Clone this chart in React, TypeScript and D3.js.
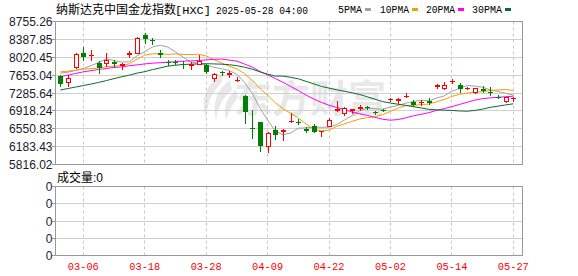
import React from 'react';
import * as d3 from 'd3';

const dates = ['03-03','03-04','03-05','03-06','03-07','03-10','03-11','03-12','03-13','03-14',
  '03-17','03-18','03-19','03-20','03-21','03-24','03-25','03-26','03-27','03-28',
  '03-31','04-01','04-02','04-03','04-04','04-07','04-08','04-09','04-10','04-11',
  '04-14','04-15','04-16','04-17','04-21','04-22','04-23','04-24','04-25','04-28',
  '04-29','04-30','05-01','05-02','05-05','05-06','05-07','05-08','05-09','05-12',
  '05-13','05-14','05-15','05-16','05-19','05-20','05-21','05-22','05-23','05-27'];

const opens = [7632.6,7504.0,7822.5,8108.2,8040.9,7904.1,7904.1,7932.7,7836.8,8061.3,
  8116.4,8469.5,8381.8,8112.3,7924.5,7918.4,7877.6,7842.8,7877.6,7857.2,
  7602.0,7708.2,7653.0,7524.4,7224.4,6571.2,6679.4,6189.5,6516.1,6479.4,
  6699.8,6699.8,6554.9,6597.8,6489.6,6612.0,6924.4,6871.3,6912.1,6952.9,
  6993.7,6903.9,6938.6,7132.5,7112.1,7210.1,7101.9,7087.6,7122.3,7401.9,
  7393.8,7528.5,7448.9,7385.6,7301.9,7377.5,7316.2,7210.1,7128.4,7173.3];
const highs = [7653.0,7653.0,8102.1,8230.7,8163.3,7938.8,8102.1,7973.5,7904.1,8149.1,
  8428.7,8516.5,8418.5,8163.3,7959.2,7959.2,7938.8,7918.4,8061.3,7877.6,
  7693.9,7744.9,7734.7,7606.1,7244.8,6938.6,6699.8,6489.6,6612.0,6544.7,
  6883.5,6748.8,6585.5,6652.9,6503.9,6769.2,7122.3,7006.0,6965.1,7046.8,
  7020.2,6918.2,6952.9,7183.5,7183.5,7275.4,7142.7,7142.7,7177.5,7469.3,
  7516.3,7565.3,7483.6,7408.1,7387.7,7428.5,7418.3,7244.8,7198.0,7210.1];
const lows = [7428.5,7428.5,7806.1,7973.5,7973.5,7700.0,7842.8,7822.5,7781.6,8026.6,
  8108.2,8312.4,8296.0,8026.6,7863.3,7877.6,7789.8,7781.6,7871.5,7693.9,
  7530.5,7659.2,7612.2,7524.4,6673.3,6361.0,6101.7,6067.1,6340.6,6326.3,
  6699.8,6652.9,6475.3,6475.3,6407.9,6597.8,6924.4,6836.6,6883.5,6938.6,
  6952.9,6857.0,6908.0,7116.2,7087.6,7198.0,7026.4,7040.7,7061.1,7381.5,
  7361.1,7495.8,7306.0,7377.5,7285.6,7312.1,7244.8,7183.5,7108.0,7128.4];
const closes = [7463.2,7585.7,8087.8,8026.6,8075.5,7789.8,7973.5,7891.9,7877.6,8102.1,
  8408.3,8394.0,8371.5,8061.3,7912.2,7906.1,7857.2,7871.5,7949.0,7724.5,
  7673.4,7697.9,7693.9,7557.1,6891.7,6544.7,6193.6,6463.0,6418.1,6520.2,
  6720.2,6687.5,6503.9,6489.6,6501.8,6734.5,6952.9,6969.2,6952.9,7006.0,
  6983.5,6893.7,6928.4,7169.3,7169.3,7224.4,7046.8,7095.7,7075.4,7459.1,
  7448.9,7536.7,7367.2,7393.8,7383.6,7332.6,7279.5,7199.9,7198.0,7189.7];

// moving-average values for days whose window starts before the visible range
const ma5Lead = [7693.9,7714.3,7748.9,7789.8];
const ma10Lead = [7720.4,7734.7,7755.1,7775.5,7785.7,7802.0,7826.5,7836.8,7851.0];
const ma20Lead = [7618.4,7653.0,7687.7,7720.4,7744.9,7769.4,7789.8,7810.2,7822.5,7847.0,
  7863.3,7883.7,7898.0,7908.2,7918.4,7928.6,7938.8,7944.9,7953.1];
const ma30Lead = [7346.9,7377.5,7408.1,7438.7,7469.3,7504.0,7540.8,7581.6,7618.4,7653.0,
  7693.9,7724.5,7765.3,7802.1,7836.8,7857.2,7871.5,7877.6,7883.7,7887.8,
  7883.7,7877.6,7867.4,7847.0,7816.4,7775.5,7720.4,7673.5,7632.6];

const yTickLabels = ['8755.26','8387.85','8020.45','7653.04','7285.64','6918.24','6550.83','6183.43','5816.02'];
const volTickLabels = ['0','0','0','0','0'];
const xTickLabels = ['03-06','03-18','03-28','04-09','04-22','05-02','05-14','05-27'];
const legendNames = ['5PMA','10PMA','20PMA','30PMA'];
const legendColors = ['#a0a0a0','#f0a000','#ff00ff','#0c6a2c'];

const RED = '#ff0000';
const GREEN = '#008000';
const CJK = '"Noto Sans CJK SC", sans-serif';
const MONO = '"Liberation Mono", monospace';
const SANS = '"Liberation Sans", Arial, sans-serif';

function rolling(vals: number[], n: number, lead: number[]) {
  return vals.map((_, i) => (i < n - 1 ? lead[i] : (d3.mean(vals.slice(i - n + 1, i + 1)) as number)));
}

export default function App() {
  const W = 578, H = 276;
  const L = 55.5, R = 522.5, T = 21.5, B = 164.5, VT = 186.5, VB = 255.5;
  const x = d3.scalePoint<string>().domain(dates).range([60.3, 513.3]);
  const y = d3.scaleLinear().domain([5816.02, 8755.26]).range([B, T]);
  const yVals = yTickLabels.map(Number);
  const px = (v: number) => Math.round(v - 0.5) + 0.5;
  const vy = d3.scaleLinear().domain([0, volTickLabels.length - 1]).range([VT, VB]);

  const mas = [
    rolling(closes, 5, ma5Lead),
    rolling(closes, 10, ma10Lead),
    rolling(closes, 20, ma20Lead),
    rolling(closes, 30, ma30Lead),
  ];
  const line = d3.line<number>().x((_, i) => x(dates[i]) as number).y((v) => y(v));

  const legendX = [338, 380, 426, 472];
  const legendW = [24, 29, 29, 30];

  return (
    <svg width={W} height={H} style={{ position: 'absolute', left: 0, top: 0, background: '#fff' }}>
      {/* title */}
      <text y={14} fontSize={12} fill="#000">
        <tspan x={56} fontFamily={CJK}>纳斯达克中国金龙指数</tspan>
        <tspan x={175} fontFamily={MONO} fontSize={11} textLength={36} lengthAdjust="spacingAndGlyphs">[HXC]</tspan>
        <tspan x={216} fontFamily={MONO} fontSize={11} textLength={92} lengthAdjust="spacingAndGlyphs">2025-05-28 04:00</tspan>
      </text>
      {/* legend */}
      {legendNames.map((n, i) => (
        <g key={n}>
          <text x={legendX[i]} y={12.5} fontFamily={MONO} fontSize={11} fill="#000" textLength={legendW[i]} lengthAdjust="spacingAndGlyphs">{n}</text>
          <rect x={legendX[i] + legendW[i] + 3} y={8} width={6} height={3} fill={legendColors[i]} />
        </g>
      ))}

      {/* watermark */}
      <g fill="#e8e8e8">
        <path d="M222,74 C206,84 200,100 206,118 C207,104 212,92 222,82 Z" />
        <path d="M230,80 C216,90 212,104 216,120 C218,108 222,98 232,90 Z" />
        <path d="M236,90 C226,98 223,108 226,120 C229,112 232,104 238,98 Z" />
        <text x={234} y={112} fontFamily={CJK} fontSize={38} fontWeight={700}>东方财富</text>
      </g>

      {/* main grid */}
      {yVals.slice(1, -1).map((v, i) => (
        <line key={'g' + i} x1={L} x2={R} y1={px(y(v))} y2={px(y(v))} stroke="#d0d0d0" />
      ))}
      {xTickLabels.map((d) => (
        <line key={'v' + d} x1={px(x(d) as number)} x2={px(x(d) as number)} y1={T} y2={B} stroke="#c8c8c8" strokeDasharray="3,3" />
      ))}
      {/* volume grid */}
      {volTickLabels.slice(1, -1).map((_, i) => (
        <line key={'vg' + i} x1={L} x2={R} y1={px(vy(i + 1))} y2={px(vy(i + 1))} stroke="#d0d0d0" />
      ))}
      {xTickLabels.map((d) => (
        <line key={'vv' + d} x1={px(x(d) as number)} x2={px(x(d) as number)} y1={VT} y2={VB} stroke="#c8c8c8" strokeDasharray="3,3" />
      ))}

      {/* frames */}
      <rect x={L} y={T} width={R - L} height={B - T} fill="none" stroke="#999" />
      <rect x={L} y={VT} width={R - L} height={VB - VT} fill="none" stroke="#999" />

      {/* y axis labels */}
      {yVals.map((v, i) => (
        <g key={'yl' + i}>
          <line x1={52} x2={L} y1={px(y(v))} y2={px(y(v))} stroke="#999" />
          <text x={52.5} y={px(y(v)) + 4.5} textAnchor="end" fontFamily={SANS} fontSize={12} fill="#1a1a2e">{yTickLabels[i]}</text>
        </g>
      ))}
      {volTickLabels.map((t, i) => (
        <g key={'vl' + i}>
          <line x1={52} x2={L} y1={px(vy(i))} y2={px(vy(i))} stroke="#999" />
          <text x={52.5} y={px(vy(i)) + 4.5} textAnchor="end" fontFamily={SANS} fontSize={12} fill="#1a1a40">{t}</text>
        </g>
      ))}
      <text x={57} y={182} fontSize={12} fill="#000">
        <tspan fontFamily={CJK}>成交量</tspan>
        <tspan fontFamily={SANS}>:0</tspan>
      </text>

      {/* x labels */}
      {xTickLabels.map((d) => (
        <text key={'xl' + d} x={x(d) as number} y={269.5} textAnchor="middle" fontFamily={MONO} fontSize={11} fill={RED} textLength={31} lengthAdjust="spacingAndGlyphs">{d}</text>
      ))}

      {/* moving averages */}
      {mas.map((m, k) => (
        <path key={'ma' + k} d={line(m) || ''} fill="none" stroke={legendColors[k]} strokeWidth={1} />
      ))}

      {/* candles */}
      {dates.map((d, i) => {
        const cx = Math.round(x(d) as number);
        const o = Math.round(y(opens[i]));
        const c = Math.round(y(closes[i]));
        const hi = Math.round(y(highs[i]));
        const lo = Math.round(y(lows[i]));
        const up = closes[i] >= opens[i];
        const col = up ? RED : GREEN;
        const top = Math.min(o, c);
        const bot = Math.max(o, c);
        const hollow = up && bot - top >= 3;
        if (hollow) {
          return (
            <g key={'c' + i}>
              <line x1={cx + 0.5} x2={cx + 0.5} y1={hi} y2={top} stroke={col} />
              <line x1={cx + 0.5} x2={cx + 0.5} y1={bot + 1} y2={lo + 1} stroke={col} />
              <rect x={cx - 1.5} y={top + 0.5} width={4} height={bot - top} fill="#fff" stroke={col} />
            </g>
          );
        }
        return (
          <g key={'c' + i}>
            <line x1={cx + 0.5} x2={cx + 0.5} y1={hi} y2={lo + 1} stroke={col} />
            <rect x={cx - 2} y={top} width={5} height={Math.max(bot - top, 1)} fill={col} />
          </g>
        );
      })}
    </svg>
  );
}
